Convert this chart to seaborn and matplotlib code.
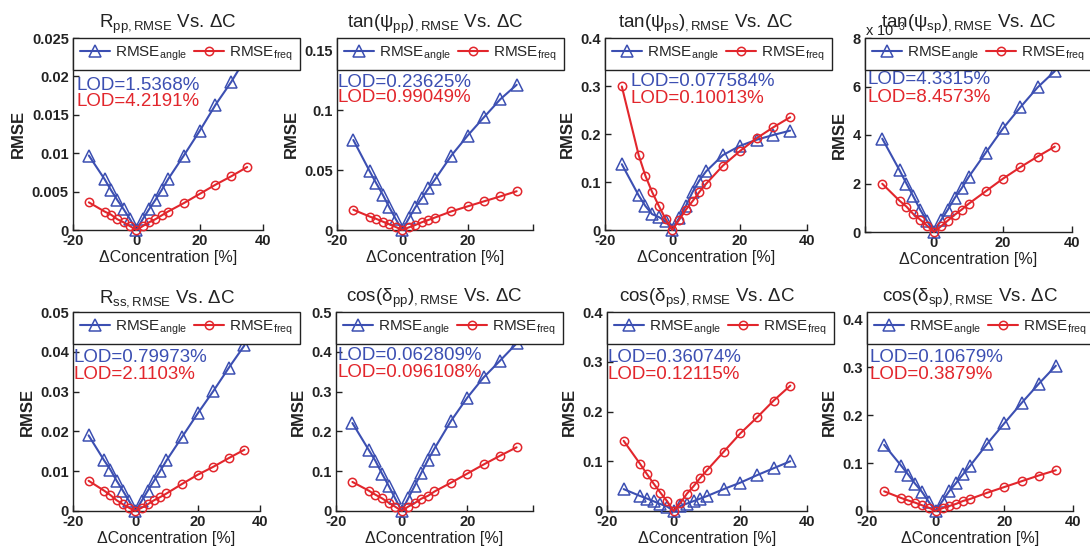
import numpy as np
import pandas as pd
import matplotlib
matplotlib.use('Agg')
import matplotlib.pyplot as plt
import seaborn as sns
from matplotlib.ticker import FuncFormatter

sns.set_theme(style='white')
plt.rcParams['font.family'] = ['Liberation Sans', 'DejaVu Sans']
plt.rcParams['mathtext.fontset'] = 'custom'
plt.rcParams['mathtext.rm'] = 'Liberation Sans'
plt.rcParams['mathtext.it'] = 'Liberation Sans:italic'
plt.rcParams['mathtext.bf'] = 'Liberation Sans:bold'

# ---------------- data ----------------
conc = [-15, -10, -8, -6, -4, -2, 0, 2, 4, 6, 8, 10, 15, 20, 25, 30, 35]

rpp_angle = [0.0097, 0.0066, 0.0052, 0.0039, 0.0027, 0.0014, 0.0, 0.0014, 0.0027, 0.0039, 0.0052, 0.0066, 0.0097, 0.0129, 0.0163, 0.0193, 0.0227]
rpp_freq = [0.0036, 0.0024, 0.0020, 0.0014, 0.0010, 0.0005, 0.0, 0.0005, 0.0010, 0.0014, 0.0019, 0.0024, 0.0035, 0.0047, 0.0059, 0.0070, 0.0082]

tpp_angle = [0.075, 0.049, 0.039, 0.0295, 0.019, 0.0090, 0.0, 0.0098, 0.019, 0.0267, 0.0346, 0.0421, 0.062, 0.0787, 0.094, 0.109, 0.121]
tpp_freq = [0.0169, 0.0112, 0.0093, 0.0070, 0.0048, 0.0025, 0.0, 0.0022, 0.0042, 0.0065, 0.0084, 0.0104, 0.0155, 0.0197, 0.0239, 0.0280, 0.0323]

tps_angle = [0.137, 0.072, 0.050, 0.033, 0.027, 0.018, 0.0, 0.025, 0.050, 0.079, 0.103, 0.122, 0.156, 0.175, 0.188, 0.198, 0.207]
tps_freq = [0.299, 0.156, 0.113, 0.079, 0.050, 0.023, 0.0, 0.021, 0.042, 0.060, 0.079, 0.096, 0.134, 0.164, 0.191, 0.214, 0.235]

tsp_angle = [0.00385, 0.00255, 0.00200, 0.00147, 0.00092, 0.00045, 0.0, 0.00048, 0.00092, 0.00140, 0.00180, 0.00226, 0.00327, 0.00427, 0.00514, 0.00596, 0.00663]
tsp_freq = [0.00199, 0.00129, 0.00105, 0.00074, 0.00051, 0.00026, 0.0, 0.00023, 0.00047, 0.00071, 0.00092, 0.00116, 0.00168, 0.00220, 0.00267, 0.00311, 0.00352]

rss_angle = [0.0190, 0.0127, 0.0104, 0.0076, 0.0051, 0.0025, 0.0, 0.0025, 0.0051, 0.0076, 0.0101, 0.0127, 0.0186, 0.0245, 0.0301, 0.0360, 0.0416]
rss_freq = [0.0076, 0.0051, 0.0040, 0.0027, 0.0017, 0.0008, 0.0, 0.0008, 0.0017, 0.0027, 0.0035, 0.0044, 0.0068, 0.0091, 0.0111, 0.0133, 0.0154]

cpp_angle = [0.221, 0.153, 0.126, 0.094, 0.064, 0.032, 0.0, 0.032, 0.064, 0.096, 0.128, 0.157, 0.226, 0.285, 0.336, 0.378, 0.421]
cpp_freq = [0.073, 0.051, 0.041, 0.032, 0.021, 0.011, 0.0, 0.011, 0.020, 0.031, 0.038, 0.049, 0.071, 0.094, 0.117, 0.139, 0.160]

cps_angle = [0.044, 0.030, 0.025, 0.0195, 0.014, 0.009, 0.0, 0.010, 0.015, 0.020, 0.025, 0.030, 0.044, 0.057, 0.072, 0.086, 0.100]
cps_freq = [0.141, 0.094, 0.074, 0.055, 0.037, 0.020, 0.0, 0.016, 0.035, 0.050, 0.067, 0.082, 0.119, 0.156, 0.188, 0.222, 0.252]

csp_angle = [0.138, 0.094, 0.076, 0.057, 0.040, 0.019, 0.0, 0.021, 0.042, 0.059, 0.077, 0.094, 0.140, 0.183, 0.225, 0.265, 0.303]
csp_freq = [0.041, 0.027, 0.022, 0.0175, 0.012, 0.007, 0.0, 0.006, 0.0105, 0.015, 0.021, 0.025, 0.038, 0.050, 0.062, 0.074, 0.085]

titles = [r'R$_{\mathdefault{pp,RMSE}}$ Vs. ΔC',
          r'tan(ψ$_{\mathdefault{pp}}$)$_{\mathdefault{,RMSE}}$ Vs. ΔC',
          r'tan(ψ$_{\mathdefault{ps}}$)$_{\mathdefault{,RMSE}}$ Vs. ΔC',
          r'tan(ψ$_{\mathdefault{sp}}$)$_{\mathdefault{,RMSE}}$ Vs. ΔC',
          r'R$_{\mathdefault{ss,RMSE}}$ Vs. ΔC',
          r'cos(δ$_{\mathdefault{pp}}$)$_{\mathdefault{,RMSE}}$ Vs. ΔC',
          r'cos(δ$_{\mathdefault{ps}}$)$_{\mathdefault{,RMSE}}$ Vs. ΔC',
          r'cos(δ$_{\mathdefault{sp}}$)$_{\mathdefault{,RMSE}}$ Vs. ΔC']

lod_angle = ['LOD=1.5368%', 'LOD=0.23625%', 'LOD=0.077584%', 'LOD=4.3315%',
             'LOD=0.79973%', 'LOD=0.062809%', 'LOD=0.36074%', 'LOD=0.10679%']
lod_freq = ['LOD=4.2191%', 'LOD=0.99049%', 'LOD=0.10013%', 'LOD=8.4573%',
            'LOD=2.1103%', 'LOD=0.096108%', 'LOD=0.12115%', 'LOD=0.3879%']

angle_series = [rpp_angle, tpp_angle, tps_angle, tsp_angle, rss_angle, cpp_angle, cps_angle, csp_angle]
freq_series = [rpp_freq, tpp_freq, tps_freq, tsp_freq, rss_freq, cpp_freq, cps_freq, csp_freq]

xtick_vals = [-20, 0, 20, 40]
xtick_labels = [['-20', '0', '20', '40'], ['-20', '0', '20', ''], ['-20', '0', '20', '40'], ['', '0', '20', '40'],
                ['-20', '0', '20', '40'], ['-20', '0', '20', ''], ['-20', '0', '20', '40'], ['-20', '0', '20', '40']]
ytick_vals = [[0, 0.005, 0.01, 0.015, 0.02, 0.025], [0, 0.05, 0.1, 0.15], [0, 0.1, 0.2, 0.3, 0.4],
              [0, 0.002, 0.004, 0.006, 0.008], [0, 0.01, 0.02, 0.03, 0.04, 0.05],
              [0, 0.1, 0.2, 0.3, 0.4, 0.5], [0, 0.1, 0.2, 0.3, 0.4], [0, 0.1, 0.2, 0.3, 0.4]]

# ---------------- layout (pixels) ----------------
W, H = 1090, 553
# (left, right, top, bottom)
boxes = [(73, 263, 38, 230), (337, 533, 38, 230), (605, 807, 38, 230), (865, 1072, 38, 232),
         (73, 260, 312, 511), (336, 533, 312, 511), (607, 807, 312, 511), (867, 1073, 312, 511)]
ylims = [0.025, 0.16, 0.4, 0.008, 0.05, 0.5, 0.4, 0.415]
lod_pos = [(0.02, 0.755, 0.67), (0.005, 0.77, 0.69), (0.124, 0.775, 0.685), (0.01, 0.785, 0.695),
           (0.005, 0.77, 0.685), (0.01, 0.78, 0.695), (0.005, 0.77, 0.685), (0.01, 0.77, 0.685)]

BLUE = '#3c4fb2'
RED = '#e2262c'

fig = plt.figure(figsize=(W / 100, H / 100), dpi=100)
fig.patch.set_facecolor('white')

for i in range(8):
    l, r, t, b = boxes[i]
    ax = fig.add_axes([l / W, 1 - b / H, (r - l) / W, (b - t) / H])
    ax.set_facecolor('white')
    df = pd.DataFrame({'conc': conc, 'angle': angle_series[i], 'freq': freq_series[i]})
    sns.lineplot(data=df, x='conc', y='angle', ax=ax, color=BLUE, marker='^', markersize=8,
                 markerfacecolor='none', markeredgecolor=BLUE, markeredgewidth=1.1, linewidth=1.5,
                 label=r'RMSE$_{\mathdefault{angle}}$', clip_on=False, zorder=3)
    sns.lineplot(data=df, x='conc', y='freq', ax=ax, color=RED, marker='o', markersize=6,
                 markerfacecolor='none', markeredgecolor=RED, markeredgewidth=1.1, linewidth=1.5,
                 label=r'RMSE$_{\mathdefault{freq}}$', clip_on=False, zorder=3)
    ax.set_xlim(-20, 40)
    ax.set_ylim(0, ylims[i])
    ax.set_xticks(xtick_vals)
    ax.set_xticklabels(xtick_labels[i])
    ax.set_yticks(ytick_vals[i])
    if i == 3:
        ax.yaxis.set_major_formatter(FuncFormatter(lambda v, p: '%g' % round(v * 1e3, 6)))
        ax.text(0.0, 1.045, r'x 10$^{\mathdefault{-3}}$', transform=ax.transAxes, fontsize=10.5,
                ha='left', va='center', color='#222222')
    else:
        ax.yaxis.set_major_formatter(FuncFormatter(lambda v, p: '%g' % round(v, 6)))
    for s in ['top', 'right']:
        ax.spines[s].set_visible(False)
    for s in ['left', 'bottom']:
        ax.spines[s].set_color('#222222')
        ax.spines[s].set_linewidth(1.0)
    ax.tick_params(direction='in', length=4, width=1, colors='#222222', labelsize=10.5,
                   left=True, bottom=True, pad=3)
    for lab in ax.get_xticklabels() + ax.get_yticklabels():
        lab.set_fontweight('bold')
        lab.set_color('#222222')
    ax.set_xlabel('ΔConcentration [%]', fontsize=11.5, color='#222222', labelpad=1)
    ax.set_ylabel('RMSE', fontsize=12, color='#222222', fontweight='bold', labelpad=4)
    ax.set_title(titles[i], fontsize=13.5, color='#222222', pad=7)
    leg = ax.legend(loc='upper left', bbox_to_anchor=(0, 1), ncol=2, frameon=True, fancybox=False,
                    edgecolor='#222222', framealpha=1, borderaxespad=0, columnspacing=0.45,
                    handlelength=2.0, handletextpad=0.3, fontsize=11, borderpad=0.45)
    leg.get_frame().set_linewidth(1.0)
    leg.set_zorder(10)
    xp, yb, yr = lod_pos[i]
    ax.text(xp, yb, lod_angle[i], transform=ax.transAxes, color=BLUE, fontsize=13.5, ha='left', va='center')
    ax.text(xp, yr, lod_freq[i], transform=ax.transAxes, color=RED, fontsize=13.5, ha='left', va='center')

fig.savefig('out.png', dpi=100, facecolor='white')
